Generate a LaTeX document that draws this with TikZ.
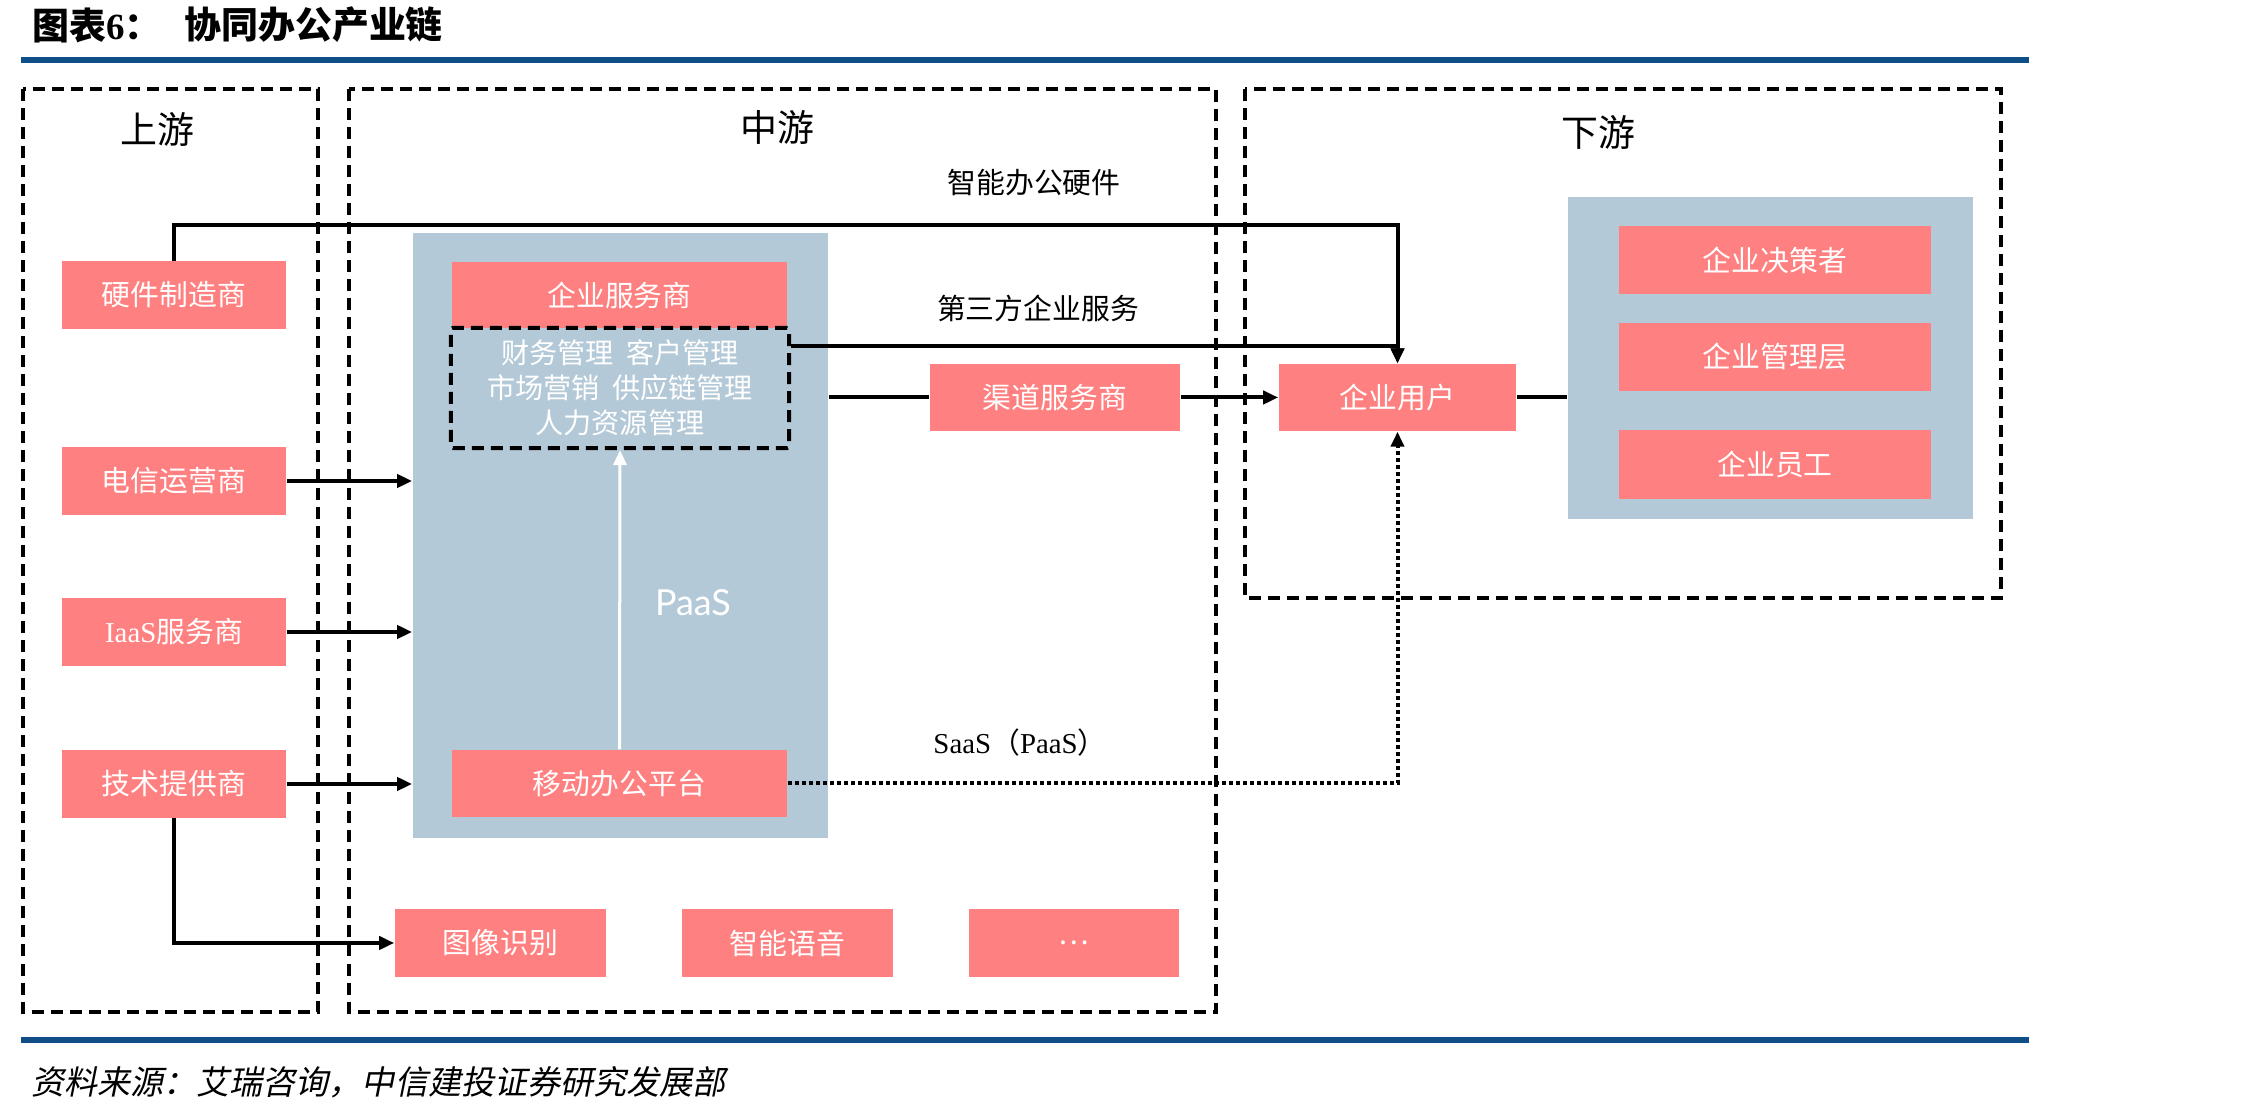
\documentclass[tikz,border=0pt]{standalone}
\usepackage{fontspec}
\setmainfont{Noto Sans CJK SC}
\newfontfamily\latinfont{Liberation Serif}
\newfontfamily\paasfont{Lato}
\newfontfamily\slantfont[FakeSlant=0.2]{Noto Sans CJK SC}
\usepackage{tikz}
\usetikzlibrary{arrows.meta,positioning}

\definecolor{boxred}{RGB}{255,128,128}
\definecolor{panelblue}{RGB}{180,201,215}
\definecolor{rulenavy}{RGB}{15,78,135}

\tikzset{
  redbox/.style={fill=boxred, text=white, inner sep=0pt, font=\fontsize{8.2}{10}\selectfont},
  panel/.style={fill=panelblue, inner sep=0pt},
  stagebox/.style={draw=black, line width=0.04cm, dash pattern=on 0.12cm off 0.07cm},
  stagetitle/.style={font=\fontsize{10.5}{12}\selectfont},
  flowlabel/.style={font=\fontsize{8.2}{10}\selectfont},
  link/.style={draw=black, line width=0.04cm, -{Triangle[length=0.15cm,width=0.13cm]}},
  plainlink/.style={draw=black, line width=0.04cm},
  dotlink/.style={draw=black, line width=0.04cm, dash pattern=on 0.04cm off 0.03cm, -{Triangle[length=0.15cm,width=0.13cm]}},
  paaslink/.style={draw=white, line width=0.03cm, -{Triangle[length=0.15cm,width=0.13cm]}}
}

\begin{document}
\begin{tikzpicture}[x=0.01cm, y=-0.01cm]
  \useasboundingbox (0,0) rectangle (2244,1107);

  % title and rules
  \node[anchor=west, font=\fontsize{10.5}{12}\selectfont\bfseries] (figno) at (20,25) {图表{\latinfont\bfseries 6}：};
  \node[anchor=west, font=\fontsize{10.5}{12}\selectfont\bfseries] (figtitle) at (172,25) {协同办公产业链};
  \draw[rulenavy, line width=0.06cm] (21,60) -- (2029,60); % top rule
  \draw[rulenavy, line width=0.06cm] (21,1040) -- (2029,1040); % bottom rule
  \node[anchor=west, font=\fontsize{9.4}{11}\slantfont] (source) at (19,1082) {资料来源：艾瑞咨询，中信建投证券研究发展部};

  % blue panels
  \node[panel, minimum width=4.15cm, minimum height=6.05cm] (midpanel) at (620.5,535.5) {};
  \node[panel, minimum width=4.05cm, minimum height=3.22cm] (rightpanel) at (1770.5,358) {};

  % upstream
  \node[redbox, minimum width=2.24cm, minimum height=0.67cm] (hw) at (174,295) {硬件制造商};
  \node[redbox, minimum width=2.24cm, minimum height=0.67cm] (telecom) at (174,481) {电信运营商};
  \node[redbox, minimum width=2.24cm, minimum height=0.67cm] (iaas) at (174,632) {{\latinfont IaaS}服务商};
  \node[redbox, minimum width=2.24cm, minimum height=0.67cm] (tech) at (174,784) {技术提供商};

  % midstream
  \node[redbox, minimum width=3.35cm, minimum height=0.66cm] (bizsvc) at (619.5,295) {企业服务商};
  \node[draw=black, line width=0.04cm, dash pattern=on 0.12cm off 0.07cm, rounded corners=0.02cm,
        minimum width=3.38cm, minimum height=1.2cm, inner sep=0pt, align=center, text=white,
        font=\fontsize{8}{10}\selectfont] (bizfunc) at (620,388)
        {财务管理\ \ 客户管理\\市场营销\ \ 供应链管理\\人力资源管理};
  \node[redbox, minimum width=3.35cm, minimum height=0.67cm] (mobile) at (619.5,783.5) {移动办公平台};
  \node[redbox, minimum width=2.5cm, minimum height=0.67cm] (channel) at (1055,397.5) {渠道服务商};
  \node[redbox, minimum width=2.11cm, minimum height=0.68cm] (image) at (500.5,943) {图像识别};
  \node[redbox, minimum width=2.11cm, minimum height=0.68cm] (voice) at (787.5,943) {智能语音};
  \node[redbox, minimum width=2.1cm, minimum height=0.68cm] (more) at (1074,943) {…};
  \node[text=white, font=\fontsize{10.2}{12}\paasfont] (paas) at (693,603) {PaaS};

  % downstream
  \node[redbox, minimum width=2.37cm, minimum height=0.67cm] (user) at (1397.5,397.5) {企业用户};
  \node[redbox, minimum width=3.12cm, minimum height=0.68cm] (decider) at (1775,260) {企业决策者};
  \node[redbox, minimum width=3.12cm, minimum height=0.68cm] (manager) at (1775,357) {企业管理层};
  \node[redbox, minimum width=3.12cm, minimum height=0.68cm] (staff) at (1775,464.5) {企业员工};

  % flow labels
  \node[flowlabel] (hwlabel) at (1034,183) {智能办公硬件};
  \node[flowlabel] (svclabel) at (1038,308) {第三方企业服务};
  \node[flowlabel] (saaslabel) at (1020,743) {{\latinfont SaaS}（{\latinfont PaaS}）};

  % connectors
  \coordinate (hwline) at (0,225);
  \coordinate (svcline) at (0,346);
  \draw[link] (hw.north) -- (hw.north |- hwline) -| (user.north);
  \draw[link] (bizfunc.east |- svcline) -| (user.north);
  \draw[plainlink] (midpanel.east |- channel) -- (channel.west);
  \draw[link] (channel.east) -- (user.west);
  \draw[plainlink] (user.east) -- (rightpanel.west |- user);
  \draw[link] (telecom.east) -- (telecom.east -| midpanel.west);
  \draw[link] (iaas.east) -- (iaas.east -| midpanel.west);
  \draw[link] (tech.east) -- (tech.east -| midpanel.west);
  \draw[link] (tech.south) |- (image.west);
  \draw[dotlink] (mobile.east) -| (user.south);
  \draw[paaslink] (mobile.north) -- (bizfunc.south);

  % stage boxes
  \draw[stagebox] (23,89) rectangle (318,1012); % upstream
  \draw[stagebox] (349,89) rectangle (1216,1012); % midstream
  \draw[stagebox] (1245,89) rectangle (2001,598); % downstream
  \node[stagetitle] (upstream) at (157,129) {上游};
  \node[stagetitle] (midstream) at (777,127) {中游};
  \node[stagetitle] (downstream) at (1598,132) {下游};
\end{tikzpicture}
\end{document}
